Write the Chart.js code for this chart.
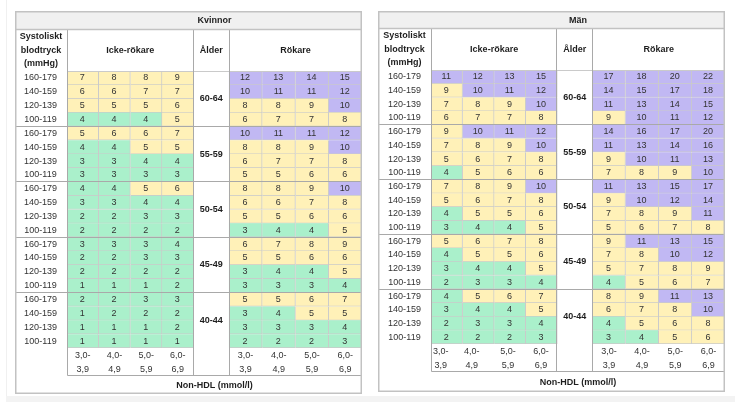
<!DOCTYPE html>
<html>
<head>
<meta charset="utf-8">
<script src="https://cdn.jsdelivr.net/npm/chart.js@4.4.1/dist/chart.umd.min.js"></script>
<style>
html,body{margin:0;padding:0;background:#fff;}
body{width:735px;height:402px;position:relative;overflow:hidden;}
.panel{position:absolute;}
#band{position:absolute;left:6px;top:396px;width:729px;height:6px;background:#f3f3f3;}
#edge{position:absolute;left:6px;top:0;width:1px;height:396px;background:#f0f0f0;}
</style>
</head>
<body>
<div id="band"></div>
<div id="edge"></div>
<div class="panel" id="pw" style="left:15px;top:11px;width:347px;height:383px"><canvas id="women"></canvas></div>
<div class="panel" id="pm" style="left:378px;top:11px;width:347px;height:381px"><canvas id="men"></canvas></div>
<script>
// ---------- data ----------
const ageGroups = ["60-64", "55-59", "50-54", "45-49", "40-44"];
const bpLabels = ["160-179", "140-159", "120-139", "100-119"];
const nonHdlLabels = [["3,0-", "3,9"], ["4,0-", "4,9"], ["5,0-", "5,9"], ["6,0-", "6,9"]];

const womenNonSmoker = [
  [7, 8, 8, 9], [6, 6, 7, 7], [5, 5, 5, 6], [4, 4, 4, 5],
  [5, 6, 6, 7], [4, 4, 5, 5], [3, 3, 4, 4], [3, 3, 3, 3],
  [4, 4, 5, 6], [3, 3, 4, 4], [2, 2, 3, 3], [2, 2, 2, 2],
  [3, 3, 3, 4], [2, 2, 3, 3], [2, 2, 2, 2], [1, 1, 1, 2],
  [2, 2, 3, 3], [1, 2, 2, 2], [1, 1, 1, 2], [1, 1, 1, 1]
];
const womenSmoker = [
  [12, 13, 14, 15], [10, 11, 11, 12], [8, 8, 9, 10], [6, 7, 7, 8],
  [10, 11, 11, 12], [8, 8, 9, 10], [6, 7, 7, 8], [5, 5, 6, 6],
  [8, 8, 9, 10], [6, 6, 7, 8], [5, 5, 6, 6], [3, 4, 4, 5],
  [6, 7, 8, 9], [5, 5, 6, 6], [3, 4, 4, 5], [3, 3, 3, 4],
  [5, 5, 6, 7], [3, 4, 5, 5], [3, 3, 3, 4], [2, 2, 2, 3]
];
const menNonSmoker = [
  [11, 12, 13, 15], [9, 10, 11, 12], [7, 8, 9, 10], [6, 7, 7, 8],
  [9, 10, 11, 12], [7, 8, 9, 10], [5, 6, 7, 8], [4, 5, 6, 6],
  [7, 8, 9, 10], [5, 6, 7, 8], [4, 5, 5, 6], [3, 4, 4, 5],
  [5, 6, 7, 8], [4, 5, 5, 6], [3, 4, 4, 5], [2, 3, 3, 4],
  [4, 5, 6, 7], [3, 4, 4, 5], [2, 3, 3, 4], [2, 2, 2, 3]
];
const menSmoker = [
  [17, 18, 20, 22], [14, 15, 17, 18], [11, 13, 14, 15], [9, 10, 11, 12],
  [14, 16, 17, 20], [11, 13, 14, 16], [9, 10, 11, 13], [7, 8, 9, 10],
  [11, 13, 15, 17], [9, 10, 12, 14], [7, 8, 9, 11], [5, 6, 7, 8],
  [9, 11, 13, 15], [7, 8, 10, 12], [5, 7, 8, 9], [4, 5, 6, 7],
  [8, 9, 11, 13], [6, 7, 8, 10], [4, 5, 6, 8], [3, 4, 5, 6]
];

// ---------- layout / style ----------
const FONT = '"Liberation Sans", Arial, sans-serif';
const ALDER_W = 35 / 31.5;   // width of the age column relative to a non-smoker column
const SMK_W = 33.1 / 31.5;   // width of a smoker column relative to a non-smoker column
const SMK_START = 4 + ALDER_W;
const XMAX = SMK_START + 4 * SMK_W;
const COL_GREEN = '#aaf0cb', COL_YELLOW = '#fff1b8', COL_PURPLE = '#c1b8f3';
const CELL_BORDER = '#cacaca', SEP = '#a9a9a9', FRAME = '#c2c2c2';
const TEXT = '#333333';

Chart.defaults.font.family = FONT;

function riskColor(v) { return v < 5 ? COL_GREEN : (v < 10 ? COL_YELLOW : COL_PURPLE); }

const rowLabels = ageGroups.flatMap(() => bpLabels);

function cellDataset(values, c, x0, x1) {
  return {
    data: values.map(() => [x0, x1]),
    cellValues: values.map(r => r[c]),
    backgroundColor: ctx => riskColor(values[ctx.dataIndex][c]),
    borderColor: CELL_BORDER,
    borderWidth: { top: 0, left: 0, right: 1, bottom: 1 },
    borderSkipped: false,
    grouped: false,
    barPercentage: 1,
    categoryPercentage: 1
  };
}

const framePlugin = {
  id: 'frame',
  beforeDraw(chart, args, o) {
    const { ctx, width } = chart;
    ctx.save();
    ctx.fillStyle = '#f0f0f0';
    ctx.fillRect(0, 0, width, o.L.titleH);
    ctx.restore();
  },
  afterDraw(chart, args, o) {
    const L = o.L;
    const { ctx, chartArea: ca, width: W, height: H } = chart;
    const xs = chart.scales.x, ys = chart.scales.y;
    const p = v => Math.round(v) - 0.5;
    function line(x0, y0, x1, y1, color, w) {
      ctx.save();
      ctx.strokeStyle = color; ctx.lineWidth = w || 1;
      ctx.beginPath(); ctx.moveTo(x0, y0); ctx.lineTo(x1, y1); ctx.stroke();
      ctx.restore();
    }
    const xLab = p(ca.left + 1), xA0 = p(xs.getPixelForValue(4)), xA1 = p(xs.getPixelForValue(SMK_START) + 1);
    const yT = p(L.titleH), yH = p(ca.top + 1), yK = p(ca.bottom + L.tickH);
    line(xLab, yH, W, yH, CELL_BORDER);
    for (let g = 1; g < ageGroups.length; g++) {
      const y = p((ys.getPixelForValue(g * 4 - 1) + ys.getPixelForValue(g * 4)) / 2 + 0.5);
      line(0, y, W, y, SEP);
    }
    line(xLab, yK, W, yK, SEP);
    [xLab, xA0, xA1].forEach(x => line(x, yT, x, yK, SEP));
    line(0, yT, W, yT, FRAME, 1.5);
    ctx.save();
    ctx.strokeStyle = FRAME; ctx.lineWidth = 1.5;
    ctx.strokeRect(0.75, 0.75, W - 1.5, H - 1.5);
    ctx.restore();

    // texts
    ctx.save();
    ctx.textAlign = 'center'; ctx.textBaseline = 'middle';
    ctx.fillStyle = '#1e1e1e';
    ctx.font = 'bold 9px ' + FONT;
    ctx.fillText(o.title, (ca.left + W) / 2, L.titleH / 2 + 0.5);
    const hMid = (L.titleH + ca.top) / 2;
    const lx = ca.left / 2;
    ctx.fillText('Systoliskt', lx, hMid - 13.5);
    ctx.fillText('blodtryck', lx, hMid);
    ctx.fillText('(mmHg)', lx, hMid + 13.5);
    ctx.fillText('Icke-rökare', (ca.left + xs.getPixelForValue(4)) / 2, hMid);
    const aMid = (xs.getPixelForValue(4) + xs.getPixelForValue(SMK_START)) / 2;
    ctx.fillText('Ålder', aMid, hMid);
    ctx.fillText('Rökare', (xs.getPixelForValue(SMK_START) + W) / 2, hMid);
    ageGroups.forEach((a, g) => {
      const y = (ys.getPixelForValue(g * 4) + ys.getPixelForValue(g * 4 + 3)) / 2;
      ctx.fillText(a, aMid, y);
    });
    // cell values
    ctx.font = '9px ' + FONT;
    ctx.fillStyle = TEXT;
    chart.data.datasets.forEach((ds, i) => {
      chart.getDatasetMeta(i).data.forEach((el, j) => {
        const pr = el.getProps(['x', 'base', 'y'], true);
        ctx.fillText(String(ds.cellValues[j]), (pr.x + pr.base) / 2 - 0.5, pr.y);
      });
    });
    ctx.restore();
  }
};

function makePanel(id, title, nonSmoker, smoker, L) {
  const datasets = [];
  for (let c = 0; c < 4; c++) datasets.push(cellDataset(nonSmoker, c, c, c + 1));
  for (let c = 0; c < 4; c++) datasets.push(cellDataset(smoker, c, SMK_START + c * SMK_W, SMK_START + (c + 1) * SMK_W));
  // tick positions: column centres, optionally nudged (in px) for the non-smoker columns
  const pxPerUnit = (L.width - L.labelW) / XMAX;
  const shifts = L.tickShiftPx || [0, 0, 0, 0];
  const nsTicks = [0, 1, 2, 3].map(c => c + 0.5 + shifts[c] / pxPerUnit);
  const smTicks = [0, 1, 2, 3].map(c => SMK_START + (c + 0.5) * SMK_W);
  const tickVals = nsTicks.concat(smTicks);
  return new Chart(document.getElementById(id), {
    type: 'bar',
    data: { labels: rowLabels, datasets },
    options: {
      indexAxis: 'y',
      responsive: true,
      maintainAspectRatio: false,
      animation: false,
      events: [],
      layout: { padding: { top: L.headerH, left: 0, right: 0, bottom: 0 } },
      plugins: {
        legend: { display: false },
        tooltip: { enabled: false },
        frame: { L, title }
      },
      scales: {
        x: {
          type: 'linear',
          position: 'bottom',
          min: 0,
          max: XMAX,
          grid: { display: false, drawTicks: false },
          border: { display: false },
          afterFit: s => { s.height = L.bottomH; },
          afterBuildTicks: s => { s.ticks = tickVals.map(v => ({ value: v })); },
          ticks: {
            autoSkip: false,
            maxRotation: 0,
            padding: 1,
            color: TEXT,
            font: { size: 9, lineHeight: 14 / 9 },
            callback: (v, i) => nonHdlLabels[i % 4]
          },
          title: {
            display: true,
            text: 'Non-HDL (mmol/l)',
            color: '#1e1e1e',
            font: { size: 9, weight: 'bold', lineHeight: 1.2 },
            padding: { top: 0, bottom: L.titlePadB }
          }
        },
        y: {
          type: 'category',
          offset: true,
          grid: { display: false, drawTicks: false },
          border: { display: false },
          afterFit: s => { s.width = L.labelW; },
          ticks: {
            autoSkip: false,
            crossAlign: 'center',
            padding: 10,
            color: TEXT,
            font: { size: 9 }
          }
        }
      }
    },
    plugins: [framePlugin]
  });
}

makePanel('women', 'Kvinnor', womenNonSmoker, womenSmoker,
  { width: 347, labelW: 52, headerH: 60, titleH: 19, tickH: 28, bottomH: 46, titlePadB: 3 });
makePanel('men', 'Män', menNonSmoker, menSmoker,
  { width: 347, labelW: 53, headerH: 59, titleH: 18, tickH: 28, bottomH: 48, titlePadB: 4,
    tickShiftPx: [-6, -6.5, -2, -0.5] });
</script>
</body>
</html>
